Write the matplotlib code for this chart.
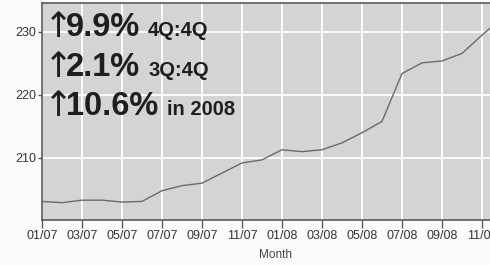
import matplotlib
matplotlib.use("Agg")
import matplotlib.pyplot as plt

plt.rcParams['font.family'] = ['Liberation Sans', 'DejaVu Sans']

# Monthly index values, 01/07 .. 12/08
months = ["01/07", "02/07", "03/07", "04/07", "05/07", "06/07",
          "07/07", "08/07", "09/07", "10/07", "11/07", "12/07",
          "01/08", "02/08", "03/08", "04/08", "05/08", "06/08",
          "07/08", "08/08", "09/08", "10/08", "11/08", "12/08"]
values = [203.1, 202.9, 203.3, 203.3, 203.0, 203.1,
          204.8, 205.6, 206.0, 207.6, 209.2, 209.7,
          211.3, 211.0, 211.3, 212.4, 214.0, 215.8,
          223.4, 225.1, 225.4, 226.6, 229.5, 232.2]
yticks = [210, 220, 230]

# Headline figures: (big number, small note)
headlines = [("9.9%", "4Q:4Q"), ("2.1%", "3Q:4Q"), ("10.6%", "in 2008")]

W, H = 490, 265
fig = plt.figure(figsize=(W / 100, H / 100), dpi=100)
fig.patch.set_facecolor('#fcfcfc')


def px(x, y):
    return x / W, 1 - y / H


left, right, top, bottom = 42, 509, 3, 220
ax = fig.add_axes([left / W, 1 - bottom / H, (right - left) / W, (bottom - top) / H])
ax.set_facecolor('#d4d4d6')

x = list(range(len(months)))
ax.plot(x, values, color='#6a6a6a', lw=1.0)

ax.set_xlim(0, (right - left) / 20)
ax.set_ylim(200.15, 234.6)

ax.set_xticks(x[::2])
ax.set_xticklabels(months[::2])
ax.set_yticks(yticks)

ax.grid(True, color='white', lw=1.3)
ax.set_axisbelow(True)

for side in ['left', 'bottom', 'top']:
    ax.spines[side].set_color('#5a5a5a')
    ax.spines[side].set_linewidth(1.2)
ax.spines['right'].set_visible(False)

ax.tick_params(axis='x', length=6, width=1, color='#5a5a5a', pad=1,
               labelsize=9, labelcolor='#333333')
ax.tick_params(axis='y', length=3, width=1, color='#5a5a5a', pad=1,
               labelsize=9, labelcolor='#333333')

ax.set_xlabel('Month', fontsize=8.5, color='#444444', labelpad=5)

# Headline text block
baselines = [35.7, 75.7, 115]
for (big, small), yb in zip(headlines, baselines):
    fig.text(*px(44, yb + 1), '\u2191', fontsize=25, color='#1e1e1e',
             va='baseline', family='DejaVu Sans')
    fig.text(*px(66, yb), big, fontsize=23.5, fontweight='bold',
             color='#1e1e1e', va='baseline')
    sx = 167 if small.startswith('in') else 148
    fig.text(*px(sx, yb), small, fontsize=14.5, fontweight='bold',
             color='#1e1e1e', va='baseline')

fig.savefig('out.png', dpi=100, facecolor=fig.get_facecolor())
